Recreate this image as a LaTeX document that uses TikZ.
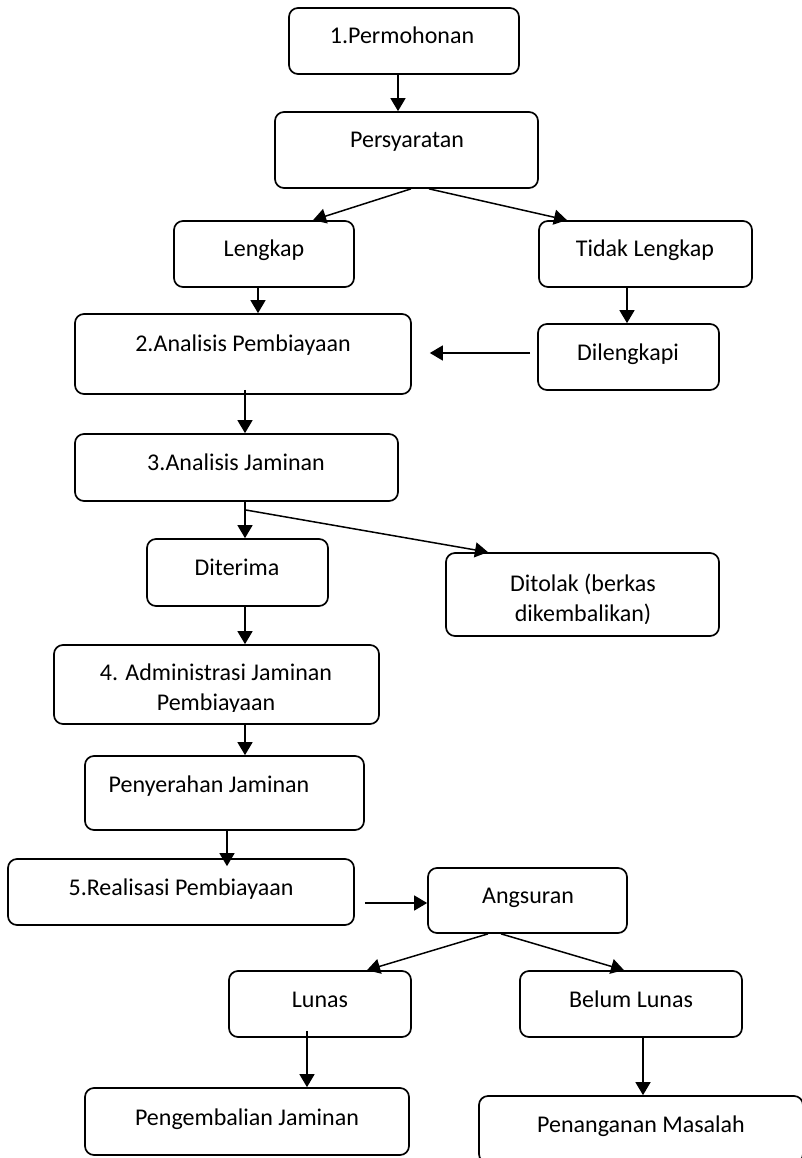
\documentclass[tikz,border=0pt]{standalone}
\usepackage{fontspec}
\setmainfont{Carlito}
\usetikzlibrary{arrows.meta}
\begin{document}
\begin{tikzpicture}
        [x=1pt, y=-1pt,
        box/.style={draw, line width=1.7pt, rounded corners=9pt, inner sep=0pt},
        txt/.style={anchor=base, align=center, font=\fontsize{24}{30}\selectfont},
        link/.style={line width=1.5pt, -{Triangle[length=13pt,width=15pt]}}]

        \useasboundingbox (0,0) rectangle (801,1158);

        % boxes
        \node[box, minimum width=230pt, minimum height=66pt] (perm) at (404,41) {};
        \node[box, minimum width=263pt, minimum height=76pt] (syarat) at (406.5,150) {};
        \node[box, minimum width=180pt, minimum height=66pt] (lengkap) at (264,254) {};
        \node[box, minimum width=213pt, minimum height=66pt] (tdklengkap) at (645.5,254) {};
        \node[box, minimum width=336pt, minimum height=80pt] (analisis) at (243,354) {};
        \node[box, minimum width=181pt, minimum height=66pt] (dilengkapi) at (628.5,357) {};
        \node[box, minimum width=323pt, minimum height=67pt] (jaminan) at (236.5,467.5) {};
        \node[box, minimum width=181pt, minimum height=67pt] (diterima) at (237.5,572.5) {};
        \node[box, minimum width=273pt, minimum height=83pt] (ditolak) at (582.5,594.5) {};
        \node[box, minimum width=325pt, minimum height=79pt] (admin) at (216.5,684.5) {};
        \node[box, minimum width=279pt, minimum height=74pt] (serah) at (224.5,793) {};
        \node[box, minimum width=346pt, minimum height=66pt] (realisasi) at (181,892) {};
        \node[box, minimum width=199pt, minimum height=65pt] (angsuran) at (527.5,900.5) {};
        \node[box, minimum width=182pt, minimum height=66pt] (lunas) at (320,1004) {};
        \node[box, minimum width=222pt, minimum height=66pt] (belum) at (631,1004) {};
        \node[box, minimum width=324pt, minimum height=67pt] (kembali) at (247,1121.5) {};
        \node[box, minimum width=324pt, minimum height=67pt] (masalah) at (641,1129.5) {};

        % texts
        \node[txt] (permT) at (402,44) {1.Permohonan};
        \node[txt] (syaratT) at (407,148) {Persyaratan};
        \node[txt] (lengkapT) at (264,257) {Lengkap};
        \node[txt] (tdklengkapT) at (645,257) {Tidak Lengkap};
        \node[txt] (analisisT) at (243,351) {2.Analisis Pembiayaan};
        \node[txt] (dilengkapiT) at (628,360) {Dilengkapi};
        \node[txt] (jaminanT) at (236,470) {3.Analisis Jaminan};
        \node[txt] (diterimaT) at (237,575) {Diterima};
        \begin{scope}
            \clip (446,553) rectangle (719,623);
            \node[txt] (ditolakT) at (583,621) {Ditolak (berkas\\dikembalikan)};
        \end{scope}
        \begin{scope}
            \clip (54,645) rectangle (379,711);
            \node[txt] (adminT) at (216,710) {4. Administrasi Jaminan\\Pembiayaan};
        \end{scope}
        \node[txt] (serahT) at (209,792) {Penyerahan Jaminan};
        \node[txt] (realisasiT) at (181,895) {5.Realisasi Pembiayaan};
        \node[txt] (angsuranT) at (528,903) {Angsuran};
        \node[txt] (lunasT) at (320,1007) {Lunas};
        \node[txt] (belumT) at (631,1007) {Belum Lunas};
        \node[txt] (kembaliT) at (247,1125) {Pengembalian Jaminan};
        \node[txt] (masalahT) at (641,1132) {Penanganan Masalah};

        % arrows
        \draw[link] ([xshift=-6pt]perm.south) -- ([xshift=-6pt]perm.south |- syarat.north);
        \draw[link] ([xshift=4.5pt]syarat.south) -- ([xshift=49pt]lengkap.north);
        \draw[link] ([xshift=22.5pt]syarat.south) -- ([xshift=-78.5pt]tdklengkap.north);
        \draw[link] ([xshift=-6pt]lengkap.south) -- ([xshift=-6pt]lengkap.south |- analisis.north);
        \draw[link] ([xshift=-18.5pt]tdklengkap.south) -- ([xshift=-18.5pt]tdklengkap.south |- dilengkapi.north);
        \draw[link] ([xshift=-7pt,yshift=4pt]dilengkapi.west) -- ([xshift=18pt,yshift=1pt]analisis.east);
        \draw[link] ([xshift=2pt,yshift=5pt]analisis.south) -- ([xshift=2pt]analisis.south |- jaminan.north);
        \draw[link] ([xshift=8.5pt]jaminan.south) -- ([xshift=8.5pt]jaminan.south |- diterima.north);
        \draw[link] ([xshift=8.5pt,yshift=-8pt]jaminan.south) -- ([xshift=-94.5pt]ditolak.north);
        \draw[link] ([xshift=7.5pt]diterima.south) -- ([xshift=7.5pt]diterima.south |- admin.north);
        \draw[link] ([xshift=28.5pt]admin.south) -- ([xshift=28.5pt]admin.south |- serah.north);
        \draw[link] ([xshift=2.5pt]serah.south) -- ([xshift=2.5pt,yshift=-8pt]serah.south |- realisasi.north);
        \draw[link] ([xshift=10pt,yshift=-11pt]realisasi.east) -- ([yshift=-2.5pt]angsuran.west);
        \draw[link] ([xshift=-39.5pt]angsuran.south) -- ([xshift=47pt]lunas.north);
        \draw[link] ([xshift=-26.5pt]angsuran.south) -- ([xshift=-7pt]belum.north);
        \draw[link] ([xshift=-13pt,yshift=7pt]lunas.south) -- ([xshift=-13pt]lunas.south |- kembali.north);
        \draw[link] ([xshift=12pt]belum.south) -- ([xshift=12pt]belum.south |- masalah.north);

    \end{tikzpicture}
\end{document}
